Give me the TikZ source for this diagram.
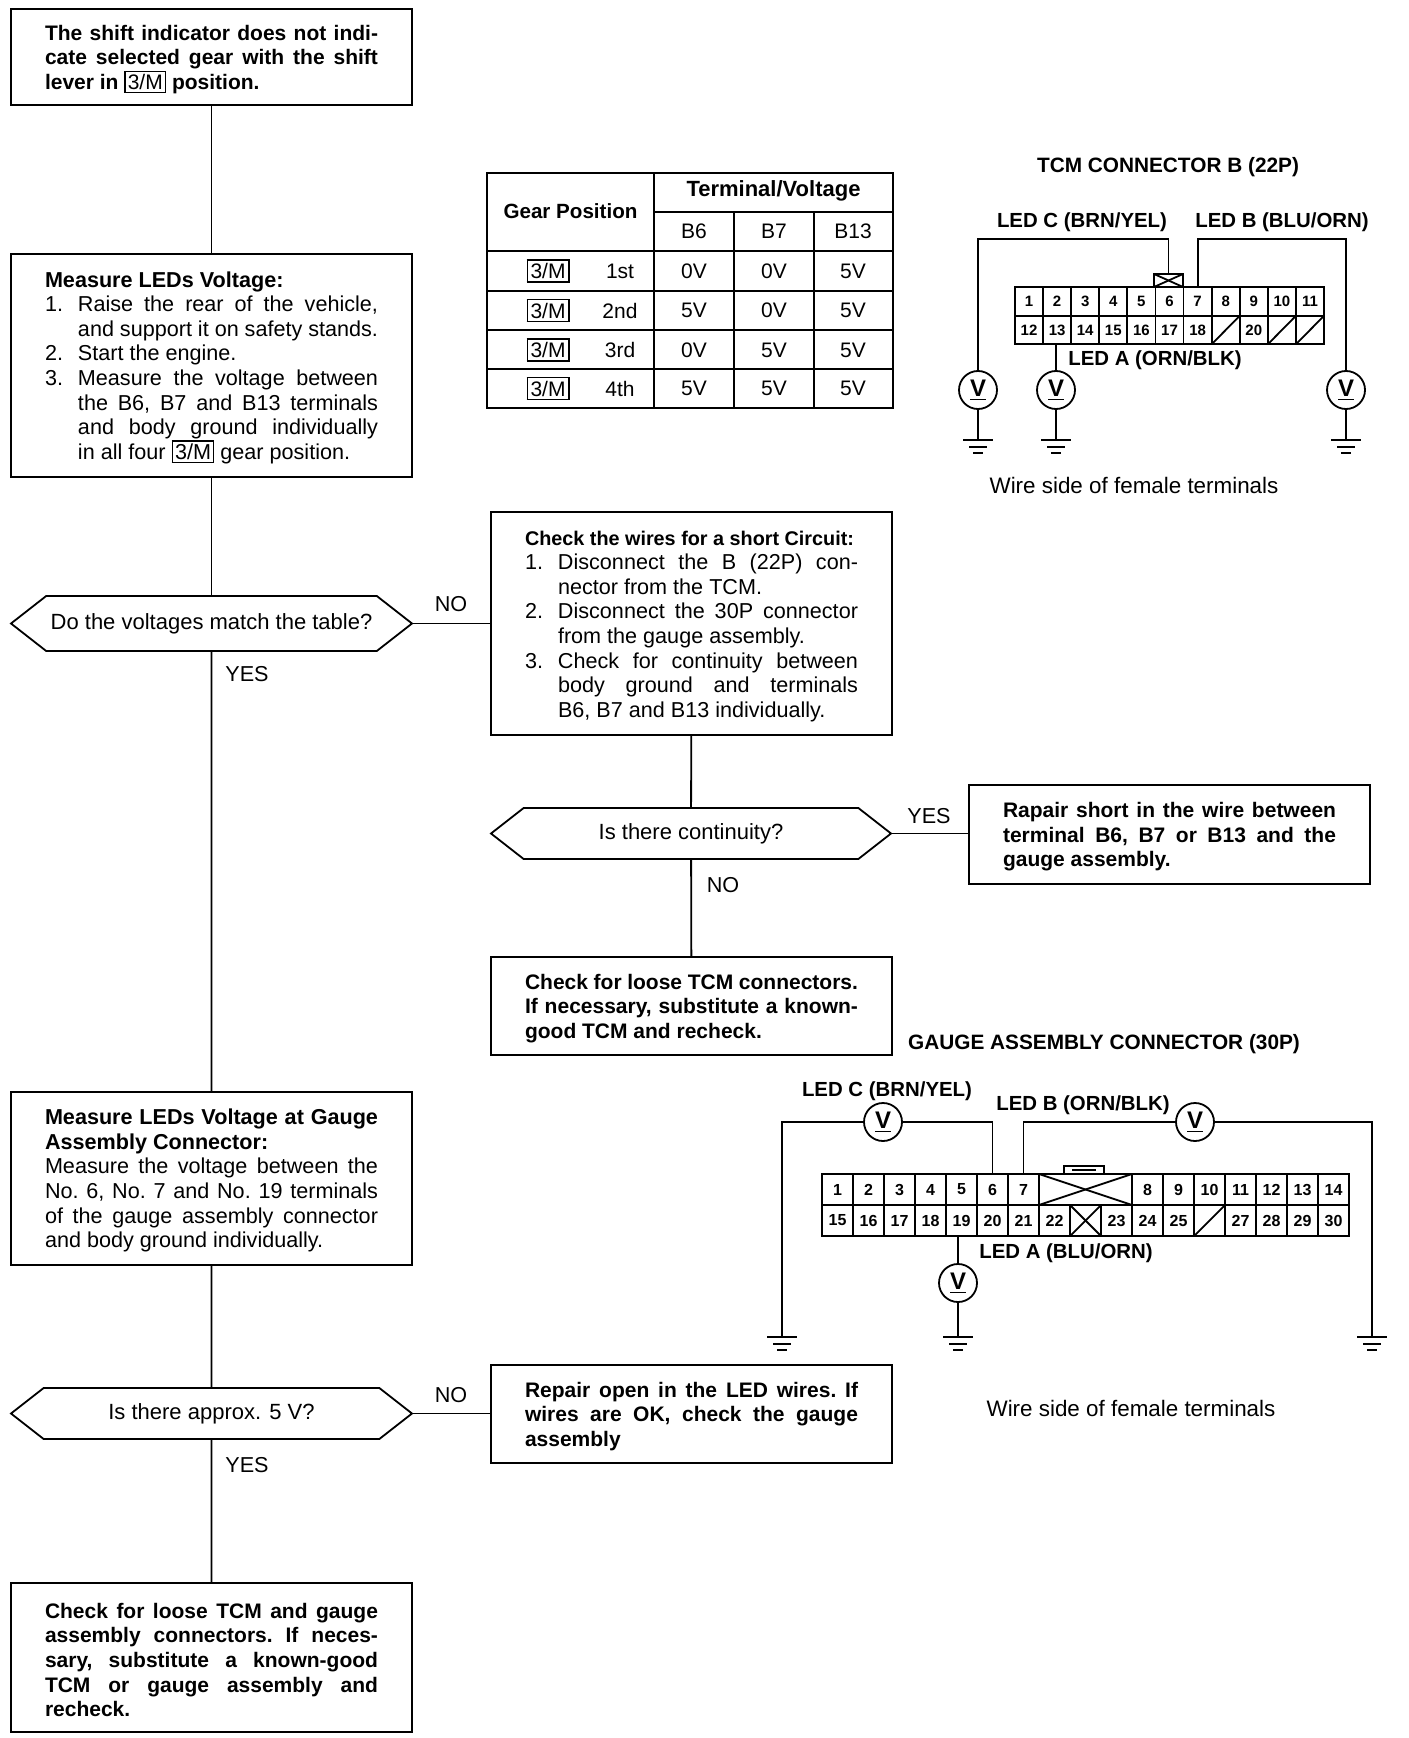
\documentclass[tikz,border=0pt]{standalone}
\usepackage{fontspec}
\setmainfont{Liberation Sans}
\usetikzlibrary{shapes.symbols}
\newcommand{\gearsym}{\smash{\fboxsep=1pt\fboxrule=0.7pt\fbox{\normalfont 3/M}}}
\newcommand{\stepline}[2]{\par\hangindent=16.5pt\hangafter=1\noindent\hbox to 16.5pt{#1\hfil}#2\par}
\tikzset{
  box/.style={draw, line width=0.9pt, anchor=north west, outer sep=0pt, inner xsep=17pt, inner ysep=0pt,
    text width=166.5pt, align=justify, font=\fontsize{10.8}{12.3}\selectfont\frenchspacing,
    execute at begin node=\rule{0pt}{10pt}},
  boldbox/.style={box, font=\fontsize{10.5}{12.3}\selectfont\bfseries\frenchspacing},
  query/.style={draw, line width=0.9pt, signal, signal to=west and east, signal pointer angle=76,
    outer sep=0pt, inner sep=0pt, font=\fontsize{11}{12.3}\selectfont},
  answer/.style={font=\fontsize{10.8}{12.3}\selectfont},
  link/.style={line width=0.9pt},
  tabline/.style={line width=1pt},
  tabtext/.style={font=\fontsize{10.5}{12}\selectfont},
  tabhead/.style={font=\fontsize{10.3}{12}\selectfont\bfseries},
  title/.style={font=\fontsize{10.4}{12}\selectfont\bfseries},
  ledlabel/.style={font=\fontsize{10.2}{12}\selectfont\bfseries},
  note/.style={font=\fontsize{11.2}{12}\selectfont},
  tcmcell/.style={draw, line width=0.9pt, minimum width=14.05pt, minimum height=14.25pt, inner sep=0pt, outer sep=0pt,
    font=\fontsize{7.5}{8}\selectfont\bfseries},
  gaugecell/.style={draw, line width=0.9pt, minimum width=15.5pt, minimum height=15.5pt, inner sep=0pt, outer sep=0pt,
    font=\fontsize{8}{8}\selectfont\bfseries},
  meter/.style={draw, circle, line width=0.9pt, minimum size=19pt, inner sep=0pt, outer sep=0pt,
    font=\fontsize{12}{12}\selectfont\bfseries},
  wire/.style={line width=0.9pt},
  gnd/.pic={
    \draw[line width=0.9pt] (-15,0) -- (15,0);
    \draw[line width=0.9pt] (-9,7) -- (9,7);
    \draw[line width=1.1pt] (-5,13) -- (5,13);
  },
}
\begin{document}
\begin{tikzpicture}[x=0.5pt, y=-0.5pt]
    \useasboundingbox (0,0) rectangle (1408,1738);

    % flow chart, left column
    \node[boldbox, minimum height=48pt] (start) at (11,9) {%
        The shift indicator does not indi-\linebreak
        cate selected gear with the shift\linebreak
        lever in \gearsym{} position.};
    \node[box, minimum height=111.5pt] (measure) at (11,254) {%
        \textbf{Measure LEDs Voltage:}
        \stepline{1.}{Raise the rear of the vehicle,\linebreak and support it on safety stands.}
        \stepline{2.}{Start the engine.}
        \stepline{3.}{Measure the voltage between\linebreak the B6, B7 and B13 terminals\linebreak
        and body ground individually\linebreak in all four \gearsym{} gear position.}};
    \node[query, minimum width=200.5pt, minimum height=27.5pt] (match) at (211.5,623.5) {Do the voltages match the table?};
    \node[box, minimum height=86.5pt] (gauge) at (11,1092) {%
        \textbf{Measure LEDs Voltage at Gauge\linebreak Assembly Connector:}\\
        Measure the voltage between the\linebreak
        No. 6, No. 7 and No. 19 terminals\linebreak
        of the gauge assembly connector\linebreak
        and body ground individually.};
    \node[query, minimum width=200.5pt, minimum height=25.5pt] (approx) at (211.5,1413.5) {Is there approx. 5 V?};
    \node[boldbox, minimum height=74.5pt] (recheck) at (11,1583) {%
        Check for loose TCM and gauge\linebreak
        assembly connectors. If neces-\linebreak
        sary, substitute a known-good\linebreak
        TCM or gauge assembly and\linebreak
        recheck.};

    % flow chart, middle column
    \node[box, minimum height=111.5pt] (short) at (491,512) {%
        {\fontsize{9.9}{12.3}\selectfont\bfseries Check the wires for a short Circuit:}
        \stepline{1.}{Disconnect the B (22P) con-\linebreak nector from the TCM.}
        \stepline{2.}{Disconnect the 30P connector\linebreak from the gauge assembly.}
        \stepline{3.}{Check for continuity between\linebreak body ground and terminals\linebreak
        B6, B7 and B13 individually.}};
    \node[query, minimum width=200pt, minimum height=25.5pt] (cont) at (691,833.5) {Is there continuity?};
    \node[boldbox, minimum height=49pt] (loose) at (491,957) {%
        Check for loose TCM connectors.\linebreak
        If necessary, substitute a known-\linebreak
        good TCM and recheck.};
    \node[boldbox, minimum height=49pt] (open) at (491,1365) {%
        Repair open in the LED wires. If\linebreak
        wires are OK, check the gauge\linebreak
        assembly};
    \node[boldbox, minimum height=49.5pt] (repair) at (969,785) {%
        Rapair short in the wire between\linebreak
        terminal B6, B7 or B13 and the\linebreak
        gauge assembly.};

    % connectors
    \draw[link] (start) -- (measure);
    \draw[link] (measure) -- (match);
    \draw[link] (match) -- (gauge);
    \draw[link] (gauge) -- (approx);
    \draw[link] (approx) -- (recheck);
    \draw[link] (match.east) -- (match.east -| short.west);
    \draw[link] (short) -- (cont);
    \draw[link] (cont) -- (loose);
    \draw[link] (cont.east) -- (cont.east -| repair.west);
    \draw[link] (approx.east) -- (approx.east -| open.west);

    % answers
    \node[answer] (no1) at (451,604) {NO};
    \node[answer] (yes1) at (247,674) {YES};
    \node[answer] (yes2) at (929,816) {YES};
    \node[answer] (no2) at (723,885) {NO};
    \node[answer] (no3) at (451,1395) {NO};
    \node[answer] (yes3) at (247,1465) {YES};

    % table
    \draw[tabline] (487,173) rectangle (893,408);
    \draw[tabline] (654,212) -- (893,212);
    \draw[tabline] (654,173) -- (654,408);
    \foreach \x in {734,814}
        \draw[tabline] (\x,212) -- (\x,408);
    \foreach \y in {251,291,330,369}
        \draw[tabline] (487,\y) -- (893,\y);
    \node[tabhead] (gearhead) at (570.5,211) {Gear Position};
    \node[tabhead, font=\fontsize{11}{12}\selectfont\bfseries] (termhead) at (773.5,191) {Terminal/Voltage};
    \node[tabtext] (b6) at (694,231) {B6};
    \node[tabtext] (b7) at (774,231) {B7};
    \node[tabtext] (b13) at (853,231) {B13};
    \foreach \y/\g/\a/\b/\c in {271/1st/0V/0V/5V, 310.5/2nd/5V/0V/5V, 350/3rd/0V/5V/5V, 388.5/4th/5V/5V/5V} {
        \node[tabtext] (sym\g) at (548,\y) {\fboxsep=1.2pt\fboxrule=0.8pt\fbox{3/M}};
        \node[tabtext] (pos\g) at (620,\y) {\g};
        \node[tabtext] (a\g) at (694,\y) {\a};
        \node[tabtext] (b\g) at (774,\y) {\b};
        \node[tabtext] (c\g) at (853,\y) {\c};
    }

    % TCM connector
    \node[title] (tcmtitle) at (1168,167) {TCM CONNECTOR B (22P)};
    \foreach \n [count=\i from 0] in {1,...,11}
        \node[tcmcell] (tcm\n) at ({1029+28.1*\i},301.5) {\n};
    \foreach \n/\t [count=\i from 0] in {12/12,13/13,14/14,15/15,16/16,17/17,18/18,19/,20/20,21/,22/}
        \node[tcmcell] (tcm\n) at ({1029+28.1*\i},330) {\t};
    \foreach \n in {19,21,22}
        \draw[wire] (tcm\n.south west) -- (tcm\n.north east);
    \node[draw, line width=1.1pt, minimum width=14.5pt, minimum height=6.5pt, inner sep=0pt, outer sep=0pt] (tkey) at (1168.5,280.5) {};
    \draw[wire] (tkey.north west) -- (tkey.south east);
    \draw[wire] (tkey.south west) -- (tkey.north east);
    \node[ledlabel] (tledc) at (1082,222) {LED C (BRN/YEL)};
    \node[ledlabel] (tledb) at (1282,222) {LED B (BLU/ORN)};
    \node[ledlabel] (tleda) at (1155,360) {LED A (ORN/BLK)};
    \node[meter] (tvc) at (978,390) {\underline{V}};
    \node[meter] (tva) at (1056,390) {\underline{V}};
    \node[meter] (tvb) at (1346,390) {\underline{V}};
    \coordinate (tgc) at (978,440);
    \coordinate (tga) at (1056,440);
    \coordinate (tgb) at (1346,440);
    \coordinate (tbendc) at (978,239);
    \coordinate (tbendb) at (1346,239);
    \draw[wire] (tkey.north) |- (tbendc) -- (tvc);
    \draw[wire] (tcm7.north) |- (tbendb) -- (tvb);
    \draw[wire] (tcm13.south -| tva) -- (tva);
    \foreach \v/\g in {tvc/tgc,tva/tga,tvb/tgb} {
        \draw[wire] (\v) -- (\g);
        \pic at (\g) {gnd};
    }
    \node[note] (tnote) at (1134,485) {Wire side of female terminals};

    % gauge assembly connector
    \node[title] (gtitle) at (1104,1044) {GAUGE ASSEMBLY CONNECTOR (30P)};
    \foreach \n/\t [count=\i from 0] in {1/1,2/2,3/3,4/4,5/5,6/6,7/7}
        \node[gaugecell] (g\n) at ({837.5+31*\i},1189.5) {\t};
    \foreach \n [count=\i from 10] in {8,...,14}
        \node[gaugecell] (g\n) at ({837.5+31*\i},1189.5) {\n};
    \node[gaugecell, minimum width=46.5pt] (gblock) at (1085.5,1189.5) {};
    \draw[wire] (gblock.north west) -- (gblock.south east);
    \draw[wire] (gblock.south west) -- (gblock.north east);
    \foreach \n/\t [count=\i from 0] in {15/15,16/16,17/17,18/18,19/19,20/20,21/21,22/22,x/,23/23,24/24,25/25,26/,27/27,28/28,29/29,30/30}
        \node[gaugecell] (g\n) at ({837.5+31*\i},1220.5) {\t};
    \draw[wire] (gx.south west) -- (gx.north east);
    \draw[wire] (gx.north west) -- (gx.south east);
    \draw[wire] (g26.south west) -- (g26.north east);
    \node[draw, line width=1.1pt, minimum width=20pt, minimum height=4pt, inner sep=0pt, outer sep=0pt] (gkey) at (1084,1170) {};
    \draw[line width=1.2pt] (1072,1170) -- (1096,1170);
    \node[ledlabel] (gledc) at (887,1091) {LED C (BRN/YEL)};
    \node[ledlabel] (gledb) at (1083,1105) {LED B (ORN/BLK)};
    \node[ledlabel] (gleda) at (1066,1253) {LED A (BLU/ORN)};
    \node[meter] (gvc) at (883,1122) {\underline{V}};
    \node[meter] (gvb) at (1195,1122) {\underline{V}};
    \node[meter] (gva) at (958,1283) {\underline{V}};
    \coordinate (ggc) at (782,1337);
    \coordinate (gga) at (958,1337);
    \coordinate (ggb) at (1372,1337);
    \draw[wire] (g6.north) |- (gvc.east);
    \draw[wire] (gvc.west) -| (ggc);
    \draw[wire] (g7.north) |- (gvb.west);
    \draw[wire] (gvb.east) -| (ggb);
    \draw[wire] (g19.south -| gva) -- (gva);
    \draw[wire] (gva) -- (gga);
    \foreach \g in {ggc,gga,ggb}
        \pic at (\g) {gnd};
    \node[note] (gnote) at (1131,1408) {Wire side of female terminals};
\end{tikzpicture}
\end{document}
